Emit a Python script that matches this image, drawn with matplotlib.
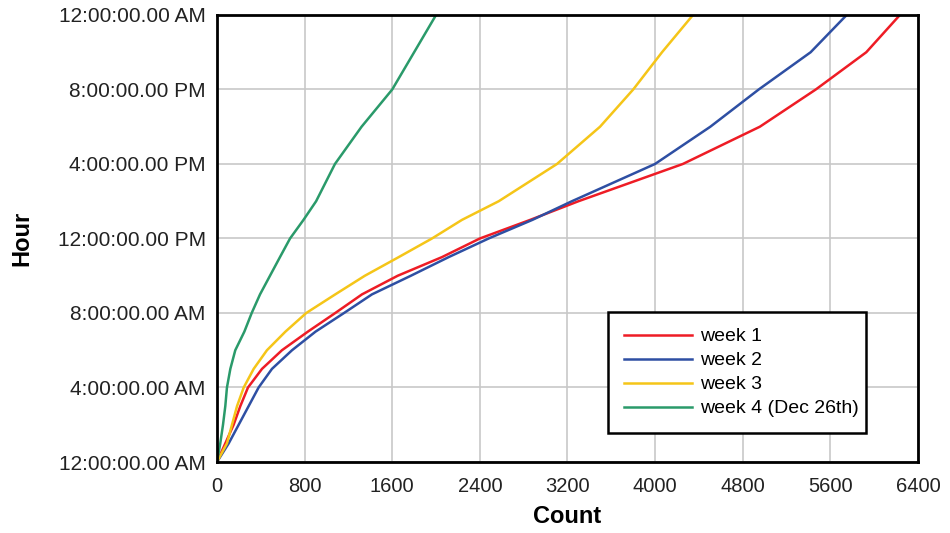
import matplotlib.pyplot as plt

hours = [0, 1, 2, 3, 4, 5, 6, 7, 8, 9, 10, 11, 12, 13, 14, 16, 18, 20, 22, 24]
week1 = [0, 76, 152, 213, 283, 411, 593, 830, 1080, 1324, 1650, 2054, 2400, 2860, 3300, 4253, 4956, 5467, 5928, 6235]
week2 = [0, 107, 198, 289, 380, 502, 685, 900, 1160, 1415, 1770, 2115, 2480, 2880, 3240, 3999, 4504, 4946, 5420, 5749]
week3 = [0, 91, 137, 183, 244, 335, 456, 625, 815, 1080, 1350, 1659, 1963, 2237, 2572, 3104, 3497, 3800, 4063, 4346]
week4 = [0, 30, 55, 76, 91, 122, 167, 250, 317, 393, 484, 575, 667, 790, 905, 1077, 1320, 1600, 1800, 2000]

labels = ['week 1', 'week 2', 'week 3', 'week 4 (Dec 26th)']
colors = ['#ee1c25', '#2e4fa3', '#f5c518', '#2a9a6a']

xticks = [0, 800, 1600, 2400, 3200, 4000, 4800, 5600, 6400]
yticks = [0, 4, 8, 12, 16, 20, 24]
ylabels = ['12:00:00.00 AM', '4:00:00.00 AM', '8:00:00.00 AM', '12:00:00.00 PM',
           '4:00:00.00 PM', '8:00:00.00 PM', '12:00:00.00 AM']

plt.rcParams['font.family'] = ['Liberation Sans', 'DejaVu Sans']

fig = plt.figure(figsize=(9.5, 5.33), dpi=100)
ax = fig.add_axes([0.2284, 0.1332, 0.7379, 0.8387])

for data, lab, c in zip([week1, week2, week3, week4], labels, colors):
    ax.plot(data, hours, color=c, lw=1.8, label=lab)

ax.set_xlim(0, 6400)
ax.set_ylim(0, 24)
ax.set_xticks(xticks)
ax.set_xticklabels([str(t) for t in xticks], fontsize=14.5, color='#222222')
ax.set_yticks(yticks)
ax.set_yticklabels(ylabels, fontsize=15, color='#222222')
ax.tick_params(axis='x', length=0, pad=11)
ax.tick_params(axis='y', length=0, pad=8)
ax.grid(True, color='#c8c8c8', lw=1.2)
ax.set_axisbelow(True)
for s in ax.spines.values():
    s.set_linewidth(2)
    s.set_color('black')

ax.set_xlabel('Count', fontsize=17, fontweight='bold', labelpad=6)
ax.set_ylabel('Hour', fontsize=17, fontweight='bold')
ax.yaxis.set_label_coords(-0.262, 0.5)

leg = ax.legend(loc='lower left', bbox_to_anchor=(0.558, 0.065, 0.368, 0.27), mode='expand',
                borderaxespad=0, fontsize=14, fancybox=False, framealpha=1, edgecolor='black',
                handlelength=3.5, labelspacing=0.33, borderpad=0.8, handletextpad=0.45)
leg.get_frame().set_linewidth(1.8)

fig.savefig('out.png', dpi=100)
